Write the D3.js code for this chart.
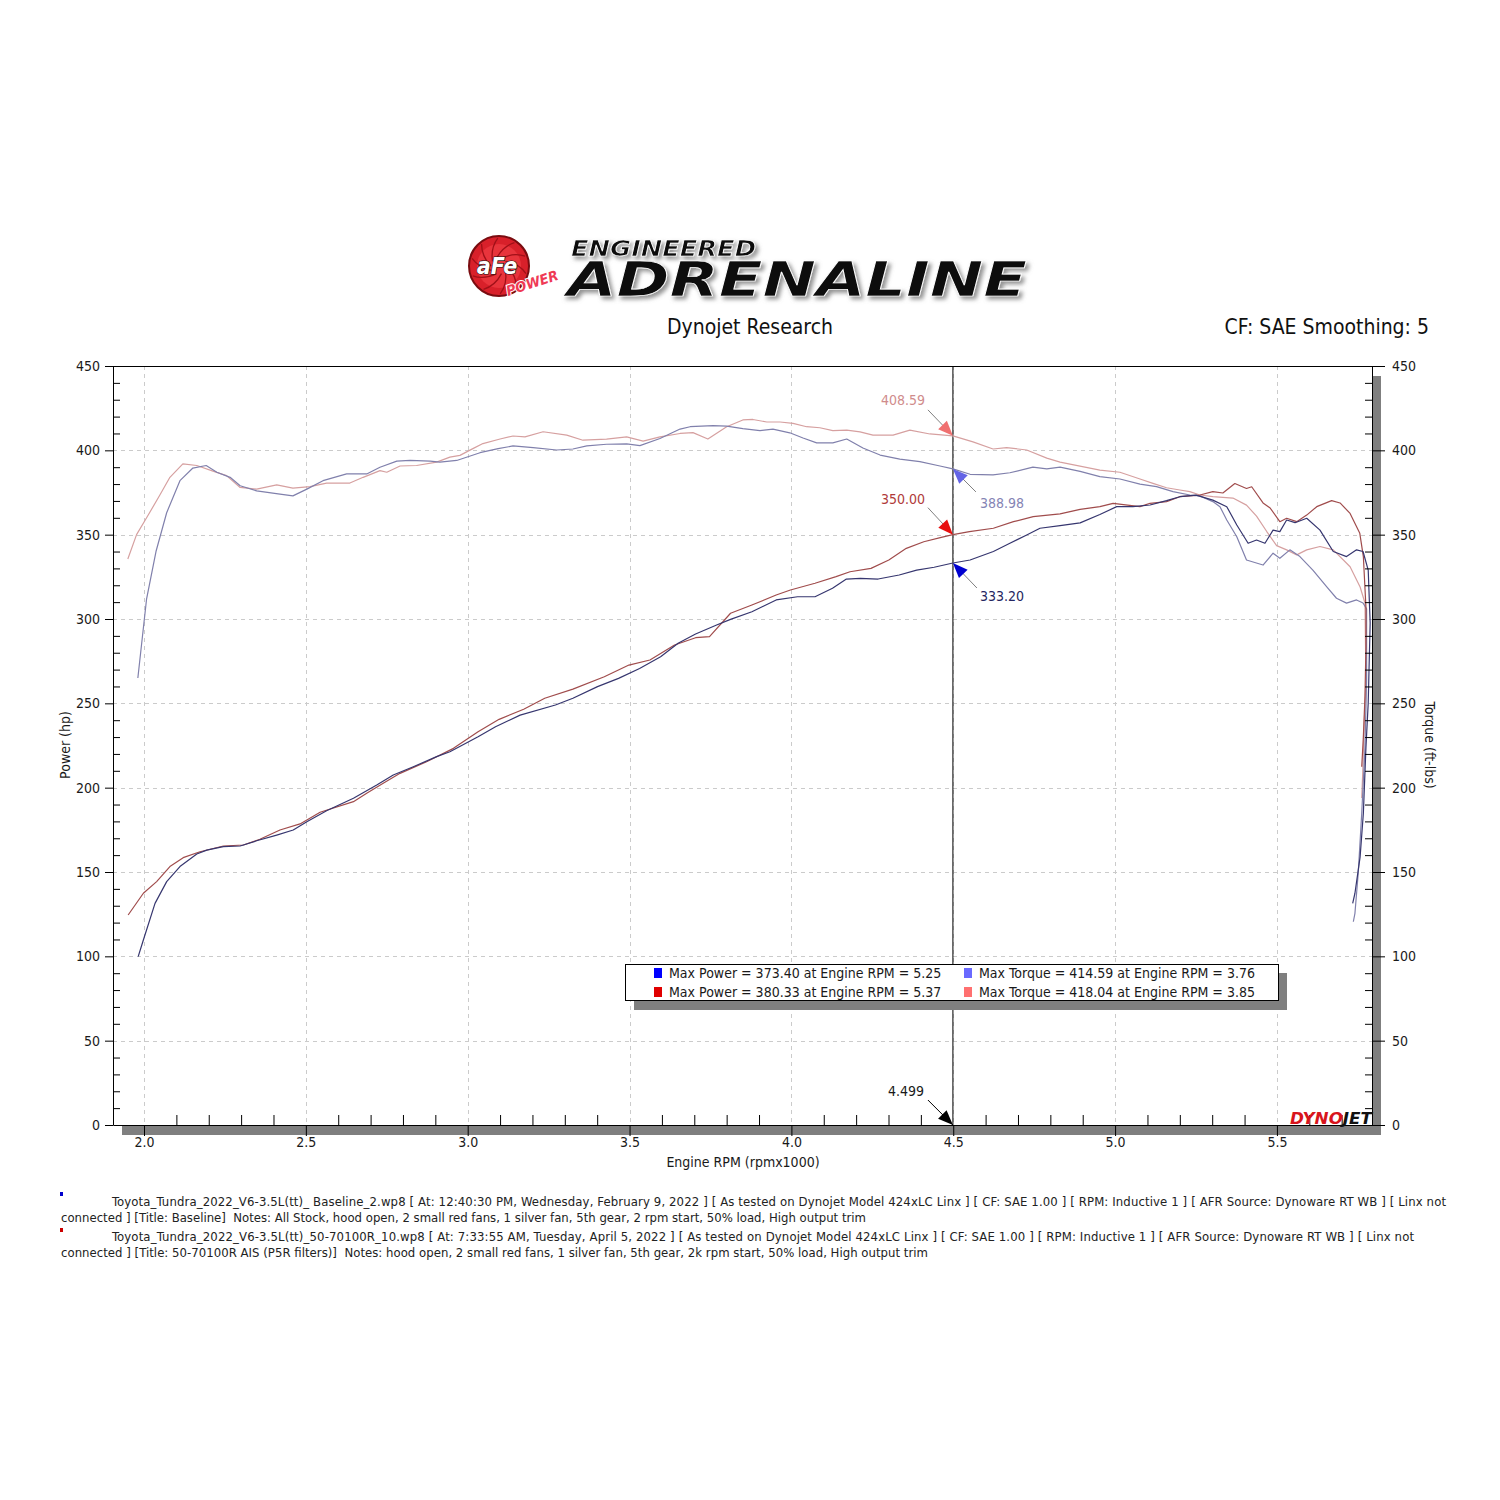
<!DOCTYPE html>
<html><head><meta charset="utf-8">
<script src="https://cdn.jsdelivr.net/npm/d3@7"></script>
<style>
body{margin:0;background:#fff;}
svg{display:block;}
text{font-family:"DejaVu Sans Condensed","Liberation Sans",sans-serif;white-space:pre;}
</style>
</head><body><div id="chart"></div>
<script>
// ---------- DATA ----------
const xTickValues = [2.0, 2.5, 3.0, 3.5, 4.0, 4.5, 5.0, 5.5];
const yTickValues = [0, 50, 100, 150, 200, 250, 300, 350, 400, 450];

// [engine rpm x1000, value]
const baselinePower = [[1.982,99.8],[1.998,109.7],[2.034,131.4],[2.070,144.3],[2.111,153.2],[2.163,160.7],[2.194,163],[2.245,165],[2.297,165.4],[2.348,168.5],[2.410,171.9],[2.461,174.9],[2.503,179.8],[2.564,186.3],[2.647,193.7],[2.719,201.6],[2.770,207.5],[2.832,212.4],[2.904,218.4],[2.945,221.3],[3.032,230.2],[3.086,236.1],[3.162,243],[3.271,249],[3.325,253],[3.401,259.9],[3.466,264.8],[3.531,270.7],[3.596,277.6],[3.650,285.6],[3.704,291.1],[3.769,296.4],[3.812,299.8],[3.878,304.3],[3.953,311.3],[4.019,313.2],[4.073,313.2],[4.127,318.2],[4.170,323.7],[4.213,324.1],[4.268,323.7],[4.333,326.1],[4.387,329],[4.441,330.7],[4.499,333.2],[4.552,335],[4.624,340],[4.675,344.9],[4.727,349.8],[4.768,353.8],[4.830,355.4],[4.892,357],[4.953,362],[5.005,366.6],[5.055,366.6],[5.108,367.6],[5.159,370.2],[5.200,372.5],[5.250,373.4],[5.302,370.5],[5.345,366.6],[5.376,355.7],[5.411,344.9],[5.437,346.8],[5.463,344.9],[5.488,352.7],[5.509,351.8],[5.530,358.7],[5.556,357.1],[5.592,359.7],[5.633,352.7],[5.674,340],[5.715,337],[5.746,341],[5.766,340],[5.782,329],[5.788,297.6],[5.782,250],[5.775,224],[5.767,184.8],[5.757,159],[5.741,137.4],[5.734,131.4]];

const modPower = [[1.951,124.5],[1.998,137.4],[2.039,144.3],[2.080,153.2],[2.121,158.5],[2.173,162],[2.245,165.4],[2.307,166],[2.358,169.4],[2.420,174.9],[2.482,178.5],[2.544,185.4],[2.647,191.7],[2.688,196.7],[2.739,202.6],[2.791,208.5],[2.873,215.4],[2.956,223.3],[3.032,233.2],[3.097,240.5],[3.173,246.5],[3.238,253],[3.325,258.4],[3.422,265.8],[3.498,272.7],[3.563,275.7],[3.639,284.6],[3.704,288.9],[3.747,289.5],[3.812,303.4],[3.878,308.3],[3.953,314.2],[3.997,317.2],[4.073,321.2],[4.138,325.1],[4.181,328],[4.246,330],[4.301,335],[4.355,341.9],[4.409,345.8],[4.463,348.4],[4.499,350.0],[4.550,351.8],[4.624,353.8],[4.686,357.7],[4.747,360.7],[4.830,362.3],[4.892,365],[4.953,366.6],[4.994,368.6],[5.077,366.6],[5.108,368.6],[5.159,369.6],[5.200,372.5],[5.262,373.5],[5.302,375.5],[5.333,374.7],[5.370,380.3],[5.406,377.4],[5.422,378.4],[5.457,368.8],[5.479,365.8],[5.509,357.7],[5.530,359.7],[5.561,357.7],[5.592,361.6],[5.623,366.6],[5.669,370.2],[5.695,368.8],[5.726,362.6],[5.756,350.8],[5.767,337],[5.775,307],[5.775,283.6],[5.772,254],[5.767,230],[5.762,212.4]];

const baselineTorque = [[1.981,265],[2.008,312],[2.037,340],[2.070,363],[2.111,382],[2.151,389.5],[2.192,391],[2.225,387],[2.266,384],[2.297,379],[2.348,376],[2.420,374],[2.460,373],[2.503,377],[2.553,382],[2.626,386],[2.688,386],[2.729,390],[2.781,393.6],[2.822,394],[2.884,393.6],[2.914,393],[2.966,394],[3.038,398.6],[3.094,401],[3.140,402.6],[3.202,401.6],[3.275,400.2],[3.325,400.8],[3.368,402.6],[3.429,403.6],[3.491,403.8],[3.532,402.8],[3.594,407],[3.656,412.6],[3.687,414],[3.758,414.6],[3.800,414.4],[3.850,412.9],[3.903,411.7],[3.943,412.6],[3.995,410.4],[4.036,407.3],[4.078,404.4],[4.128,404.4],[4.171,406.7],[4.221,401.4],[4.274,397.2],[4.335,394.8],[4.397,393.3],[4.459,390.7],[4.499,389.0],[4.552,385.8],[4.623,385.4],[4.675,386.7],[4.746,390],[4.789,389],[4.830,390],[4.892,387.5],[4.953,384.4],[5.015,383],[5.077,380],[5.128,378.5],[5.179,375.5],[5.231,373.5],[5.262,373],[5.302,369.6],[5.324,366.6],[5.345,358.7],[5.376,348.8],[5.406,335],[5.457,332],[5.488,339],[5.509,336],[5.540,341],[5.571,337],[5.611,329],[5.654,319],[5.684,312.3],[5.715,309.4],[5.746,311.3],[5.766,309.5],[5.777,306],[5.777,263.8],[5.772,224],[5.762,184.8],[5.751,149],[5.741,125.5],[5.736,120.5]];

const modTorque = [[1.950,335.6],[1.977,350],[2.008,360],[2.049,373.5],[2.080,384],[2.120,392],[2.163,391],[2.213,387.7],[2.255,385],[2.297,378],[2.348,377],[2.410,379.5],[2.460,377.6],[2.513,378.5],[2.564,380.6],[2.636,380.6],[2.677,384],[2.729,388],[2.750,387],[2.791,390.7],[2.842,391],[2.904,393],[2.945,396],[2.976,397],[3.016,401],[3.047,404],[3.100,406.7],[3.140,408.5],[3.177,408],[3.233,411],[3.306,409],[3.356,406],[3.429,406.7],[3.491,408],[3.542,405.5],[3.594,408],[3.656,410],[3.696,410.5],[3.742,406.7],[3.800,414],[3.850,418],[3.881,418.3],[3.924,416.8],[3.965,416.8],[4.005,416],[4.047,414],[4.088,413.4],[4.128,411.7],[4.171,412],[4.212,410.9],[4.252,409],[4.314,409],[4.366,412],[4.428,409.7],[4.499,408.6],[4.561,405],[4.623,400.8],[4.665,401.6],[4.727,400.2],[4.789,395.4],[4.830,393],[4.953,388.3],[5.015,387],[5.077,383],[5.117,380.4],[5.159,377.8],[5.200,376.5],[5.231,375.5],[5.262,373.5],[5.302,372.5],[5.364,371.7],[5.406,367.5],[5.437,361],[5.468,352],[5.499,343.5],[5.530,341],[5.561,338],[5.592,341],[5.633,343],[5.674,341],[5.726,331],[5.757,319],[5.772,309.5],[5.775,263.8],[5.769,234],[5.765,208.5],[5.762,193.9]];

const seriesColors = ["#36366f", "#a04c4c", "#8080ac", "#d6a0a0"];
const legendColors = ["#0000ff", "#e00000", "#6a6aff", "#ff7070"];
const legendLabels = [
  "Max Power = 373.40 at Engine RPM = 5.25",
  "Max Power = 380.33 at Engine RPM = 5.37",
  "Max Torque = 414.59 at Engine RPM = 3.76",
  "Max Torque = 418.04 at Engine RPM = 3.85"
];
const cursorRpm = 4.499;
const cursorValues = [408.59, 388.98, 350.00, 333.20];
const cursorLabels = ["408.59", "388.98", "350.00", "333.20"];
const footnotes = [
  "Toyota_Tundra_2022_V6-3.5L(tt)_ Baseline_2.wp8 [ At: 12:40:30 PM, Wednesday, February 9, 2022 ] [ As tested on Dynojet Model 424xLC Linx ] [ CF: SAE 1.00 ] [ RPM: Inductive 1 ] [ AFR Source: Dynoware RT WB ] [ Linx not",
  "connected ] [Title: Baseline]  Notes: All Stock, hood open, 2 small red fans, 1 silver fan, 5th gear, 2 rpm start, 50% load, High output trim",
  "Toyota_Tundra_2022_V6-3.5L(tt)_50-70100R_10.wp8 [ At: 7:33:55 AM, Tuesday, April 5, 2022 ] [ As tested on Dynojet Model 424xLC Linx ] [ CF: SAE 1.00 ] [ RPM: Inductive 1 ] [ AFR Source: Dynoware RT WB ] [ Linx not",
  "connected ] [Title: 50-70100R AIS (P5R filters)]  Notes: hood open, 2 small red fans, 1 silver fan, 5th gear, 2k rpm start, 50% load, High output trim"
];

// ---------- LAYOUT ----------
const L = 113, R = 1372, T = 366, B = 1125;
const svg = d3.select("#chart").append("svg").attr("width", 1500).attr("height", 1500);

const x = d3.scaleLinear().domain([1.9042, 5.7937]).range([L, R]);
const y = d3.scaleLinear().domain([0, 450]).range([B, T]);

// ---------- LOGO ----------
const defs = svg.append("defs");
const sh = defs.append("filter").attr("id", "sh").attr("x", "-5%").attr("y", "-20%").attr("width", "115%").attr("height", "150%");
sh.append("feDropShadow").attr("dx", 3).attr("dy", 3).attr("stdDeviation", 2).attr("flood-color", "#777").attr("flood-opacity", 0.8);

const logo = svg.append("g");
logo.append("circle").attr("cx", 499).attr("cy", 266).attr("r", 30).attr("fill", "#d8202a").attr("stroke", "#7a0c10").attr("stroke-width", 2);
logo.append("circle").attr("cx", 499).attr("cy", 266).attr("r", 22).attr("fill", "#e8343c");
for (let i = 0; i < 10; i++) {
  const a = i * Math.PI / 5;
  logo.append("path")
    .attr("d", `M${499 + 8 * Math.cos(a)},${266 + 8 * Math.sin(a)} Q${499 + 20 * Math.cos(a + 0.5)},${266 + 20 * Math.sin(a + 0.5)} ${499 + 28 * Math.cos(a + 0.9)},${266 + 28 * Math.sin(a + 0.9)}`)
    .attr("fill", "none").attr("stroke", "#a01018").attr("stroke-width", 1.3);
}
logo.append("text").text("aFe").attr("x", 497).attr("y", 274).attr("text-anchor", "middle")
  .attr("font-family", "DejaVu Sans").attr("font-weight", "bold").attr("font-style", "italic").attr("font-size", 23)
  .attr("fill", "#fff").attr("stroke", "#111").attr("stroke-width", 1.2).attr("paint-order", "stroke");
logo.append("text").text("POWER").attr("transform", "translate(508,296) rotate(-18)")
  .attr("font-family", "DejaVu Sans").attr("font-weight", "bold").attr("font-style", "italic").attr("font-size", 14)
  .attr("textLength", 54).attr("lengthAdjust", "spacingAndGlyphs")
  .attr("fill", "#ef3a55").attr("stroke", "#fff").attr("stroke-width", 2).attr("paint-order", "stroke");

// brand wordmark: one text element, two lines
const word = logo.append("text")
  .attr("font-family", "DejaVu Sans").attr("font-weight", "bold").attr("font-style", "italic")
  .attr("fill", "#111").attr("stroke", "#fff").attr("stroke-width", 0.7).attr("filter", "url(#sh)");
word.append("tspan").text("ENGINEERED").attr("x", 571).attr("y", 256).attr("font-size", 22)
  .attr("textLength", 185).attr("lengthAdjust", "spacingAndGlyphs");
word.append("tspan").text("ADRENALINE").attr("x", 567).attr("y", 296).attr("font-size", 48)
  .attr("textLength", 460).attr("lengthAdjust", "spacingAndGlyphs");

// ---------- HEADER ----------
svg.append("text").text("Dynojet Research").attr("x", 750).attr("y", 334).attr("text-anchor", "middle")
  .attr("font-size", 21).attr("fill", "#111");
svg.append("text").text("CF: SAE Smoothing: 5").attr("x", 1429).attr("y", 334).attr("text-anchor", "end")
  .attr("font-size", 21).attr("fill", "#111");

// ---------- PLOT FRAME ----------
svg.append("rect").attr("x", L + 9).attr("y", T + 10).attr("width", R - L).attr("height", B - T).attr("fill", "#7f7f7f");
svg.append("rect").attr("x", L).attr("y", T).attr("width", R - L).attr("height", B - T).attr("fill", "#fff");

// grid
const grid = svg.append("g").attr("stroke", "#cbcbcb").attr("stroke-width", 1).attr("stroke-dasharray", "4,4");
grid.selectAll("line.v").data(xTickValues).join("line")
  .attr("x1", d => Math.round(x(d)) + 0.5).attr("x2", d => Math.round(x(d)) + 0.5).attr("y1", T).attr("y2", B);
grid.selectAll("line.h").data(yTickValues.filter(v => v > 0 && v < 450)).join("line")
  .attr("x1", L).attr("x2", R).attr("y1", d => Math.round(y(d)) + 0.5).attr("y2", d => Math.round(y(d)) + 0.5);

// cursor line
svg.append("line").attr("x1", x(cursorRpm)).attr("x2", x(cursorRpm)).attr("y1", T).attr("y2", B)
  .attr("stroke", "#000").attr("stroke-width", 1);

// ---------- CURVES ----------
defs.append("clipPath").attr("id", "plotclip").append("rect").attr("x", L).attr("y", T).attr("width", R - L).attr("height", B - T);
const line = d3.line().x(d => x(d[0])).y(d => y(d[1])).curve(d3.curveLinear);
const allSeries = [baselinePower, modPower, baselineTorque, modTorque];
const drawOrder = [3, 2, 1, 0];
svg.append("g").attr("clip-path", "url(#plotclip)")
  .selectAll("path").data(drawOrder).join("path")
  .attr("d", i => line(allSeries[i]))
  .attr("fill", "none").attr("stroke", i => seriesColors[i]).attr("stroke-width", 1.2)
  .attr("stroke-linejoin", "round");

// ---------- AXES ----------
const fontSize = 14;
function styleAxis(g) {
  g.selectAll("text").attr("font-size", fontSize).attr("fill", "#1a1a1a")
    .attr("font-family", '"DejaVu Sans Condensed","Liberation Sans",sans-serif');
  g.selectAll("line").attr("stroke", "#000");
  g.select(".domain").attr("stroke", "#000");
}
const yMinor = d3.range(10, 450, 10).filter(v => v % 50 !== 0);
const xMinor = d3.range(19, 58, 1).map(v => v / 10).filter(v => Math.round(v * 10) % 5 !== 0 && v > 1.91 && v < 5.79);

svg.append("g").attr("transform", `translate(${L},0)`)
  .call(d3.axisLeft(y).tickValues(yTickValues).tickSize(8).tickSizeOuter(0).tickPadding(5).tickFormat(d3.format("d")))
  .call(styleAxis);
svg.append("g").attr("transform", `translate(${L},0)`)
  .call(d3.axisLeft(y).tickValues(yMinor).tickSize(-7).tickFormat(""))
  .call(g => g.select(".domain").remove()).call(styleAxis);

svg.append("g").attr("transform", `translate(${R},0)`)
  .call(d3.axisRight(y).tickValues(yTickValues).tickSize(13).tickSizeOuter(0).tickPadding(7).tickFormat(d3.format("d")))
  .call(styleAxis);
svg.append("g").attr("transform", `translate(${R},0)`)
  .call(d3.axisRight(y).tickValues(yMinor).tickSize(-7).tickFormat(""))
  .call(g => g.select(".domain").remove()).call(styleAxis);

svg.append("g").attr("transform", `translate(0,${B})`)
  .call(d3.axisBottom(x).tickValues(xTickValues).tickSize(11).tickSizeOuter(0).tickPadding(1).tickFormat(d3.format(".1f")))
  .call(styleAxis);
svg.append("g").attr("transform", `translate(0,${B})`)
  .call(d3.axisBottom(x).tickValues(xMinor).tickSize(-10).tickFormat(""))
  .call(g => g.select(".domain").remove()).call(styleAxis);

// top border
svg.append("line").attr("x1", L).attr("x2", R).attr("y1", T + 0.5).attr("y2", T + 0.5).attr("stroke", "#000");

// axis titles
svg.append("text").text("Engine RPM (rpmx1000)").attr("x", 743).attr("y", 1167).attr("text-anchor", "middle")
  .attr("font-size", fontSize).attr("fill", "#1a1a1a");
svg.append("text").text("Power (hp)").attr("transform", "translate(70,745) rotate(-90)").attr("text-anchor", "middle")
  .attr("font-size", fontSize).attr("fill", "#1a1a1a");
svg.append("text").text("Torque (ft-lbs)").attr("transform", "translate(1425,745) rotate(90)").attr("text-anchor", "middle")
  .attr("font-size", fontSize).attr("fill", "#1a1a1a");

// DYNOJET mark
const dj = svg.append("text").attr("x", 1290).attr("y", 1124)
  .attr("font-family", "DejaVu Sans").attr("font-weight", "bold").attr("font-style", "italic").attr("font-size", 16)
  .attr("textLength", 82).attr("lengthAdjust", "spacingAndGlyphs");
dj.append("tspan").text("DYNO").attr("fill", "#d8141c");
dj.append("tspan").text("JET").attr("fill", "#111");

// ---------- CURSOR ANNOTATIONS ----------
const annotOffsets = [[-25, -26], [23, 23], [-25, -27], [24, 25]];
const annotLabelPos = [[-50, -31], [49, 39], [-50, -31], [49, 38]];
const annotLabelColors = ["#d08c8c", "#8484b4", "#b03a3a", "#262660"];
const annotHeadColors = ["#f07070", "#6464e6", "#e81010", "#0000d0"];
function arrow(tx, ty, fx, fy, head, shaft) {
  svg.append("line").attr("x1", fx).attr("y1", fy).attr("x2", tx).attr("y2", ty)
    .attr("stroke", shaft).attr("stroke-width", 1);
  const dx = fx - tx, dy = fy - ty, len = Math.hypot(dx, dy);
  const ux = dx / len, uy = dy / len, px = -uy, py = ux;
  const bx = tx + ux * 15, by = ty + uy * 15;
  svg.append("path")
    .attr("d", `M${tx},${ty}L${bx + px * 6},${by + py * 6}L${bx - px * 6},${by - py * 6}Z`)
    .attr("fill", head);
}
cursorValues.forEach((v, i) => {
  const tx = x(cursorRpm), ty = y(v);
  arrow(tx, ty, tx + annotOffsets[i][0], ty + annotOffsets[i][1], annotHeadColors[i], "#808080");
  svg.append("text").text(cursorLabels[i]).attr("x", tx + annotLabelPos[i][0]).attr("y", ty + annotLabelPos[i][1])
    .attr("text-anchor", "middle").attr("font-size", fontSize).attr("fill", annotLabelColors[i]);
});
arrow(x(cursorRpm), B, x(cursorRpm) - 25, B - 25, "#000", "#000");
svg.append("text").text(d3.format(".3f")(cursorRpm)).attr("x", x(cursorRpm) - 47).attr("y", B - 29)
  .attr("text-anchor", "middle").attr("font-size", fontSize).attr("fill", "#1a1a1a");

// ---------- LEGEND ----------
const lg = svg.append("g");
lg.append("rect").attr("x", 634).attr("y", 973).attr("width", 653).attr("height", 37).attr("fill", "#7f7f7f");
lg.append("rect").attr("x", 625.5).attr("y", 964.5).attr("width", 653).attr("height", 36).attr("fill", "#fff").attr("stroke", "#000");
const legendPos = [[654, 973], [654, 992], [964, 973], [964, 992]];
legendLabels.forEach((t, i) => {
  lg.append("rect").attr("x", legendPos[i][0]).attr("y", legendPos[i][1] - 5).attr("width", 8).attr("height", 10).attr("fill", legendColors[i]);
  lg.append("text").text(t).attr("x", legendPos[i][0] + 15).attr("y", legendPos[i][1] + 5)
    .attr("font-size", fontSize).attr("fill", "#1a1a1a");
});

// ---------- FOOTNOTES ----------
const fnPos = [[112, 1206, 1334], [61, 1222, 867], [112, 1241, 1302], [61, 1257, 867]];
fnPos[1][2] = 805;
footnotes.forEach((t, i) => {
  svg.append("text").text(t).attr("x", fnPos[i][0]).attr("y", fnPos[i][1])
    .attr("font-size", 13).attr("fill", "#222")
    .attr("textLength", fnPos[i][2]).attr("lengthAdjust", "spacing");
});
svg.append("rect").attr("x", 60).attr("y", 1192).attr("width", 3).attr("height", 4).attr("fill", "#0000cc");
svg.append("rect").attr("x", 60).attr("y", 1228).attr("width", 3).attr("height", 4).attr("fill", "#cc0000");
</script>
</body></html>
